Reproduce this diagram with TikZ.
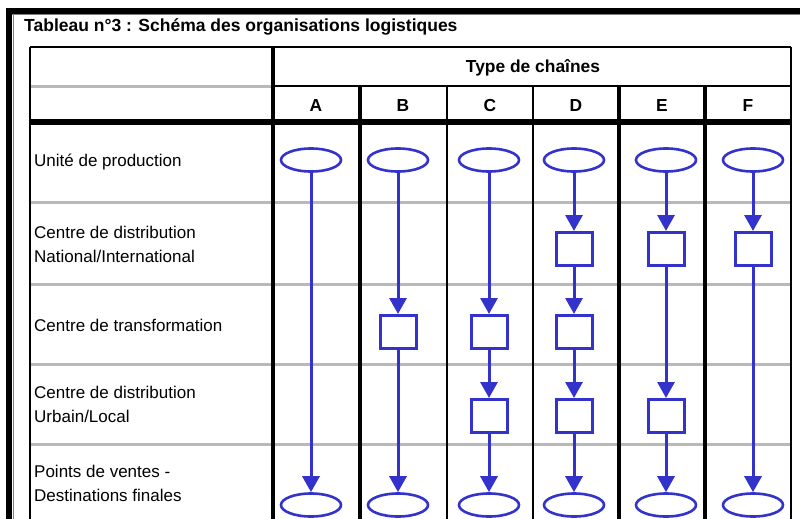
\documentclass[tikz,border=0pt]{standalone}
\usepackage{fontspec}
\setmainfont{Liberation Sans}
\usetikzlibrary{shapes.geometric,arrows.meta}
\definecolor{chain}{RGB}{51,51,204}
\definecolor{sep}{RGB}{185,185,185}

\begin{document}
\begin{tikzpicture}[x=1pt,y=-1pt,
  prod/.style={ellipse,draw=chain,line width=2.6pt,minimum width=60pt,minimum height=23pt,inner sep=0pt},
  depot/.style={rectangle,draw=chain,line width=3pt,minimum width=36pt,minimum height=33pt,inner sep=0pt},
  flow/.style={draw=chain,line width=3pt,-{Triangle[length=16pt,width=17pt]}},
  rowlabel/.style={anchor=west,align=left,inner sep=0pt,font=\fontsize{17}{24}\selectfont},
  head/.style={font=\bfseries\fontsize{17.4}{17}\selectfont},
  heavy rule/.style={line width=3.2pt},
  light rule/.style={line width=1.6pt},
  grey rule/.style={draw=sep,line width=3pt}]
  \useasboundingbox (0,0) rectangle (800,519);
  \clip (0,0) rectangle (800,519);
  % outer frame
  \fill (6,8) rectangle (800,14);
  \fill (6,8) rectangle (12,519);
  \draw[gray,line width=1pt] (12,15) -- (800,15);
  \draw[gray,line width=1pt] (13,15) -- (13,519);
  \node[anchor=west,inner sep=0pt,font=\bfseries\fontsize{17.5}{17}\selectfont] (title) at (24,27)
    {Tableau n°3 : Schéma des organisations logistiques};
  % table rules
  \draw[grey rule] (30,86) -- (273,86);
  \foreach \y in {202,284,364,444}
    \draw[grey rule] (30,\y) -- (791,\y);
  \draw[light rule] (30,47) -- (791,47);
  \draw[light rule] (273,86) -- (791,86);
  \draw[light rule] (30,47) -- (30,519);
  \draw[light rule] (791,47) -- (791,519);
  \draw[heavy rule] (273,47) -- (273,519);
  \draw[heavy rule] (360,86) -- (360,519);
  \draw[light rule] (447,86) -- (447,519);
  \draw[light rule] (533,86) -- (533,519);
  \draw[heavy rule] (619,86) -- (619,519);
  \draw[heavy rule] (705,86) -- (705,519);
  \draw[line width=5.5pt] (30,122) -- (792,122);
  \node[head] (type) at (533,68) {Type de chaînes};
  % row labels
  \node[rowlabel] (unite) at (34,162) {Unité de production};
  \node[rowlabel] (cdn) at (34,244) {Centre de distribution\\National/International};
  \node[rowlabel] (ct) at (34,325) {Centre de transformation};
  \node[rowlabel] (cdu) at (34,404) {Centre de distribution\\Urbain/Local};
  \node[rowlabel] (pv) at (34,483) {Points de ventes -\\Destinations finales};
  % column letters
  \foreach \c/\x in {A/316,B/403,C/490,D/576,E/662,F/748}
    \node[head] (h\c) at (\x,106) {\c};
  % chains
  \foreach \c/\x in {A/311,B/398,C/489,D/574,E/666,F/753} {
    \node[prod] (u\c) at (\x,160) {};
    \node[prod] (p\c) at (\x,505) {};
  }
  \node[depot] (nD) at (574,249) {};
  \node[depot] (nE) at (666,249) {};
  \node[depot] (nF) at (753,249) {};
  \node[depot] (tB) at (398,332) {};
  \node[depot] (tC) at (489,332) {};
  \node[depot] (tD) at (574,332) {};
  \node[depot] (lC) at (489,416) {};
  \node[depot] (lD) at (574,416) {};
  \node[depot] (lE) at (666,416) {};
  \draw[flow] (uA) -- (pA);
  \draw[flow] (uB) -- (tB);
  \draw[flow] (tB) -- (pB);
  \draw[flow] (uC) -- (tC);
  \draw[flow] (tC) -- (lC);
  \draw[flow] (lC) -- (pC);
  \draw[flow] (uD) -- (nD);
  \draw[flow] (nD) -- (tD);
  \draw[flow] (tD) -- (lD);
  \draw[flow] (lD) -- (pD);
  \draw[flow] (uE) -- (nE);
  \draw[flow] (nE) -- (lE);
  \draw[flow] (lE) -- (pE);
  \draw[flow] (uF) -- (nF);
  \draw[flow] (nF) -- (pF);
\end{tikzpicture}
\end{document}
